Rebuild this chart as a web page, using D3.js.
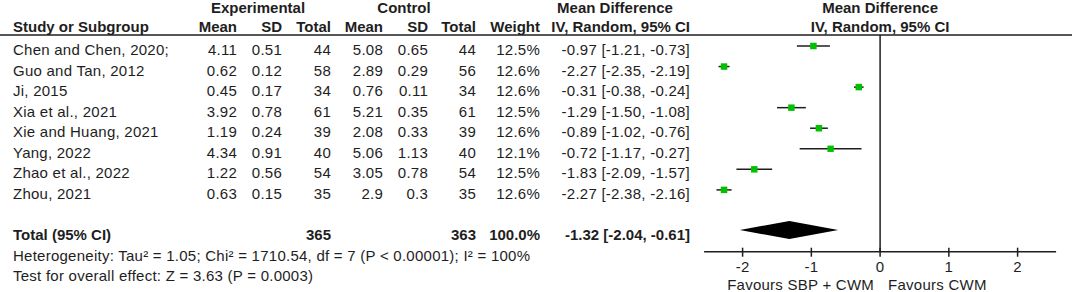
<!DOCTYPE html>
<html>
<head>
<meta charset="utf-8">
<script src="https://cdn.jsdelivr.net/npm/d3@7"></script>
<style>
  body { margin: 0; background: #fff; }
  svg { display: block; font-family: "Liberation Sans", Arial, sans-serif; }
  text { fill: #1e1e1e; font-size: 15px; letter-spacing: 0.25px; }
  .bold text, text.bold { font-weight: bold; letter-spacing: 0; }
</style>
</head>
<body>
<div id="chart"></div>
<script>
// study rows
const studies = ["Chen and Chen, 2020;", "Guo and Tan, 2012", "Ji, 2015", "Xia et al., 2021",
                 "Xie and Huang, 2021", "Yang, 2022", "Zhao et al., 2022", "Zhou, 2021"];
const expMean = [4.11, 0.62, 0.45, 3.92, 1.19, 4.34, 1.22, 0.63];
const expSD = [0.51, 0.12, 0.17, 0.78, 0.24, 0.91, 0.56, 0.15];
const expTotal = [44, 58, 34, 61, 39, 40, 54, 35];
const ctlMean = [5.08, 2.89, 0.76, 5.21, 2.08, 5.06, 3.05, 2.9];
const ctlSD = [0.65, 0.29, 0.11, 0.35, 0.33, 1.13, 0.78, 0.3];
const ctlTotal = [44, 56, 34, 61, 39, 40, 54, 35];
const weights = [12.5, 12.6, 12.6, 12.5, 12.6, 12.1, 12.5, 12.6];
const md = [-0.97, -2.27, -0.31, -1.29, -0.89, -0.72, -1.83, -2.27];
const ciLow = [-1.21, -2.35, -0.38, -1.50, -1.02, -1.17, -2.09, -2.38];
const ciHigh = [-0.73, -2.19, -0.24, -1.08, -0.76, -0.27, -1.57, -2.16];

// pooled result
const totalExp = 365, totalCtl = 363, totalWeight = 100.0;
const pooled = { md: -1.32, lo: -2.04, hi: -0.61 };
const heterogeneityText = "Heterogeneity: Tau\u00b2 = 1.05; Chi\u00b2 = 1710.54, df = 7 (P < 0.00001); I\u00b2 = 100%";
const overallText = "Test for overall effect: Z = 3.63 (P = 0.0003)";

const xTicks = [-2, -1, 0, 1, 2];
const favourLeft = "Favours SBP + CWM", favourRight = "Favours CWM";

const width = 1072, height = 292;
const svg = d3.select("#chart").append("svg")
    .attr("width", width).attr("height", height);

const f2 = d => d.toFixed(2);
const ciStr = (m, l, h) => `${f2(m)} [${f2(l)}, ${f2(h)}]`;

// row baselines
const yRow = d3.scaleLinear().domain([0, 9]).range([55, 240]);
const x = d3.scaleLinear().domain([-2, 2]).range([742.6, 1017.6]);

// columns (right edges for numeric columns)
const cols = [
    { key: "mean1", x: 237, vals: expMean, head: "Mean" },
    { key: "sd1", x: 282, vals: expSD, head: "SD" },
    { key: "tot1", x: 331, vals: expTotal, head: "Total" },
    { key: "mean2", x: 383, vals: ctlMean, head: "Mean" },
    { key: "sd2", x: 428, vals: ctlSD, head: "SD" },
    { key: "tot2", x: 476, vals: ctlTotal, head: "Total" },
    { key: "w", x: 540, vals: weights.map(w => w.toFixed(1) + "%"), head: "Weight" },
    { key: "ci", x: 690, vals: md.map((m, i) => ciStr(m, ciLow[i], ciHigh[i])), head: "IV, Random, 95% CI" }
];

// header
const head = svg.append("g").attr("class", "bold");
head.append("text").attr("x", 258).attr("y", 13).attr("text-anchor", "middle").text("Experimental");
head.append("text").attr("x", 404).attr("y", 13).attr("text-anchor", "middle").text("Control");
head.append("text").attr("x", 615).attr("y", 13).attr("text-anchor", "middle").text("Mean Difference");
head.append("text").attr("x", x(0)).attr("y", 13).attr("text-anchor", "middle").text("Mean Difference");
head.append("text").attr("x", x(0)).attr("y", 32).attr("text-anchor", "middle").text("IV, Random, 95% CI");
head.append("text").attr("x", 13).attr("y", 32).text("Study or Subgroup");
head.selectAll(".colhead").data(cols).enter().append("text")
    .attr("class", "colhead")
    .attr("x", d => d.x).attr("y", 32)
    .attr("text-anchor", "end")
    .text(d => d.head);

svg.append("line").attr("x1", 0).attr("x2", width).attr("y1", 35).attr("y2", 35)
    .attr("stroke", "#1e1e1e").attr("stroke-width", 1.5);

// study rows
svg.selectAll(".study").data(studies).enter().append("text")
    .attr("class", "study")
    .attr("x", 13).attr("y", (d, i) => yRow(i))
    .text(d => d);

cols.forEach(c => {
    svg.selectAll(".c-" + c.key).data(c.vals).enter().append("text")
        .attr("class", "c-" + c.key)
        .attr("x", c.x).attr("y", (d, i) => yRow(i))
        .attr("text-anchor", "end")
        .text(d => String(d));
});

// total row
const tot = svg.append("g").attr("class", "bold");
const yTot = yRow(9);
tot.append("text").attr("x", 13).attr("y", yTot).text("Total (95% CI)");
tot.append("text").attr("x", 331).attr("y", yTot).attr("text-anchor", "end").text(totalExp);
tot.append("text").attr("x", 476).attr("y", yTot).attr("text-anchor", "end").text(totalCtl);
tot.append("text").attr("x", 540).attr("y", yTot).attr("text-anchor", "end").text(totalWeight.toFixed(1) + "%");
tot.append("text").attr("x", 690).attr("y", yTot).attr("text-anchor", "end").text(ciStr(pooled.md, pooled.lo, pooled.hi));

svg.append("text").attr("x", 13).attr("y", 261).text(heterogeneityText);
svg.append("text").attr("x", 13).attr("y", 281).text(overallText);

// forest plot
const axisY = 251.7;
svg.append("line")
    .attr("x1", x(0)).attr("x2", x(0)).attr("y1", 35).attr("y2", axisY)
    .attr("stroke", "#1e1e1e").attr("stroke-width", 1.5);

const size = d3.scaleSqrt().domain([0, 12.6]).range([0, 6.5]);

svg.selectAll(".ci").data(md).enter().append("line")
    .attr("class", "ci")
    .attr("x1", (d, i) => x(ciLow[i])).attr("x2", (d, i) => x(ciHigh[i]))
    .attr("y1", (d, i) => yRow(i) - 9).attr("y2", (d, i) => yRow(i) - 9)
    .attr("stroke", "#1e1e1e").attr("stroke-width", 1.5);

svg.selectAll(".sq").data(md).enter().append("rect")
    .attr("class", "sq")
    .attr("x", (d, i) => x(d) - size(weights[i]) / 2)
    .attr("y", (d, i) => yRow(i) - 9 - size(weights[i]) / 2)
    .attr("width", (d, i) => size(weights[i]))
    .attr("height", (d, i) => size(weights[i]))
    .attr("fill", "#00c000");

const dy = yTot - 10;
svg.append("path")
    .attr("d", `M${x(pooled.lo)},${dy} L${x(pooled.md)},${dy - 9} L${x(pooled.hi)},${dy} L${x(pooled.md)},${dy + 9} Z`)
    .attr("fill", "#000");

// axis
const axis = svg.append("g").attr("transform", `translate(0,${axisY})`);
axis.append("line").attr("x1", x(-2.56)).attr("x2", x(2.56))
    .attr("stroke", "#1e1e1e").attr("stroke-width", 1.5);
axis.selectAll(".tick").data(xTicks).enter().append("line")
    .attr("x1", d => x(d)).attr("x2", d => x(d))
    .attr("y1", -4).attr("y2", 5)
    .attr("stroke", "#1e1e1e").attr("stroke-width", 1.5);
axis.selectAll(".tl").data(xTicks).enter().append("text")
    .attr("x", d => x(d)).attr("y", 20)
    .attr("text-anchor", "middle")
    .text(d => String(d));

svg.append("text").attr("x", x(0) - 6).attr("y", 290).attr("text-anchor", "end").text(favourLeft);
svg.append("text").attr("x", x(0) + 8).attr("y", 290).text(favourRight);
</script>
</body>
</html>
